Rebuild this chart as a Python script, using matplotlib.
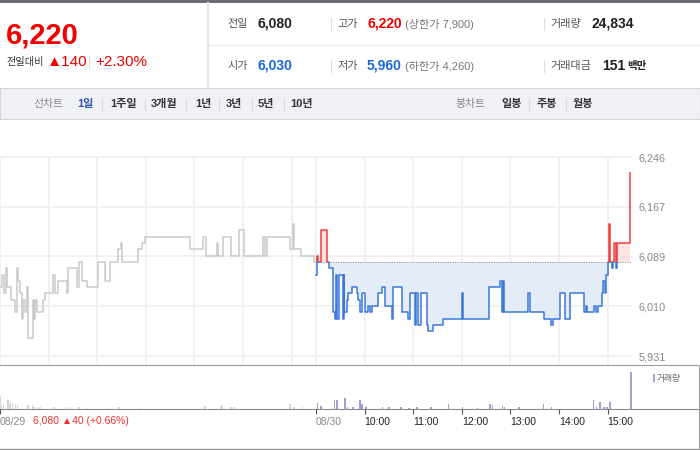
#!/usr/bin/env python3
"""1-day intraday line chart: previous session in grey, today coloured
against yesterday's close, volume strip underneath, quote header on top."""

import matplotlib

matplotlib.use("Agg")
import matplotlib.pyplot as plt
from matplotlib import font_manager
from matplotlib.patches import Rectangle
import numpy as np

W, H = 700, 450
plt.rcParams["font.family"] = ["Liberation Sans", "Noto Sans CJK KR", "DejaVu Sans"]

RED = "#f23d3d"
BLUE = "#3a78dc"
RED_FILL = "#fde3e3"
BLUE_FILL = "#e4ecf8"
PREV_GREY = "#c9cacd"
GRID = "#eeeeee"
LABEL = "#888888"
DARK = "#222222"
VOL_PREV = "#d6d6d6"
VOL_TODAY = "#a99bd6"

BASE = 6080  # previous close

# minutes after 09:00 on 08/29 (390 = 09:00 on 08/30), step close prices
PREV_MIN = [0, 3, 5, 7, 9, 14, 18.5, 20.6, 22.6, 24.7, 26.7, 28.8, 30.9, 33, 35,
            40.3, 42, 43.6, 45.3, 53.5, 55.6, 65.8, 67.9, 72, 82.3, 84.4, 94.7,
            98, 100.8, 107.8, 121.4, 129.6, 135.8, 146, 149, 151, 170.8, 175,
            179, 234.6, 251, 254, 267.5, 269.5, 275.7, 284.8, 295.5, 301, 325,
            327, 329, 358, 361, 363, 372, 388, 390]
PREV_PRICE = [6040, 6060, 6030, 6070, 6040, 6020, 6000, 6070, 6050, 6030, 5990,
              6020, 6000, 6040, 5960, 6020, 5990, 6020, 6000, 6020, 6030, 6060,
              6030, 6050, 6030, 6070, 6040, 6080, 6050, 6040, 6080, 6050, 6080,
              6100, 6110, 6080, 6100, 6110, 6120, 6100, 6120, 6090, 6110, 6090,
              6120, 6090, 6130, 6090, 6120, 6090, 6120, 6100, 6140, 6100, 6090,
              6080, 6080]

TODAY_MIN = [390, 391, 393, 396, 404, 406.6, 411.5, 413.6, 414.8, 416.5, 419,
             423, 424, 425, 428, 430, 435, 440, 442, 444, 446.5, 450.6, 454.7,
             456.8, 458.8, 467, 471, 475, 483.5, 485.6, 496, 504, 506, 512, 514,
             516.5, 519, 526.7, 528.8, 535, 547, 570, 571, 603, 616.5, 619,
             620.6, 622, 652, 654, 670.8, 680, 682, 691, 697.5, 703, 721, 723.5,
             725, 732.5, 736, 738, 743, 744, 747, 748, 749.8, 751.4, 753, 755,
             757, 758, 760.5, 762, 777, 778]
TODAY_PRICE = [6060, 6090, 6080, 6130, 6080, 6070, 6000, 5990, 6060, 5990, 6060,
               5990, 6060, 6000, 6020, 6030, 6040, 6030, 6020, 6000, 6030, 6000,
               6010, 6000, 6010, 6030, 6040, 6010, 5990, 6040, 6000, 5990, 6030,
               5980, 6030, 5980, 6030, 5980, 5970, 5980, 5990, 6030, 5990, 6040,
               6050, 6000, 6050, 6000, 6030, 6000, 5990, 5980, 5990, 6030, 5990,
               6030, 6000, 6010, 6000, 6010, 6000, 6010, 6030, 6050, 6030, 6060,
               6080, 6140, 6080, 6070, 6080, 6110, 6070, 6110, 6220, 6220]

PREV_VOL_MIN = [0, 1.2, 3.3, 9, 10.3, 12.3, 14.4, 18.5, 20.6, 33.7, 39, 41, 45.3,
                48.5, 65.8, 82.3, 86.4, 96.7, 107, 131.7, 146, 172.8, 252, 271.6,
                273.7, 284, 288, 357, 362, 372.5]
PREV_VOL = [980, 240, 400, 720, 400, 540, 460, 400, 320, 260, 260, 120, 120, 120,
            100, 100, 140, 100, 80, 80, 100, 80, 210, 180, 320, 100, 100, 340,
            100, 100]
TODAY_VOL_MIN = [391, 395, 412, 415, 425, 428, 435, 443.6, 445.7, 450.6, 471,
                 479, 494, 504, 513.6, 531, 552.7, 570, 588.5, 604, 607, 619.4,
                 622, 639.5, 670, 680, 731.7, 735, 739.5, 744.8, 748, 752, 777.8]
TODAY_VOL = [460, 180, 720, 720, 860, 140, 140, 720, 340, 140, 100, 100, 100, 80,
             140, 100, 380, 140, 80, 380, 260, 210, 140, 100, 380, 100, 660, 140,
             540, 140, 100, 540, 2940]

Y_TICKS = [5931, 6010, 6089, 6167, 6246]
Y_LABELS = ["5,931", "6,010", "6,089", "6,167", "6,246"]
GRID_MIN = [0, 60, 120, 180, 240, 300, 360, 390, 450, 510, 570, 630, 690, 750]
X_TICKS = [0, 390, 450, 510, 570, 630, 690, 750]
X_LABELS = ["08/29", "08/30", "10:00", "11:00", "12:00", "13:00", "14:00", "15:00"]

X_MAX = 780
PX_PER_WON = 199 / 315


def fig_rect(x0, y0, x1, y1):
    return [x0 / W, 1 - y1 / H, (x1 - x0) / W, (y1 - y0) / H]


def header(bg):
    names = {f.name for f in font_manager.fontManager.ttflist}
    narrow = "Liberation Sans Narrow" in names
    bg.add_patch(Rectangle((0, 0), 700, 2.5, color="#6a6d74", lw=0))
    bg.text(6, 36, "6,220", color="#f00000", fontweight="bold",
            fontsize=24 if narrow else 21,
            family="Liberation Sans Narrow" if narrow else "Liberation Sans",
            va="center", ha="left")
    bg.text(7, 62, "전일대비", color="#333", fontsize=7.3, va="center")
    bg.text(47, 62, "▲140", color="#f00000", fontsize=11, va="center")
    bg.plot([89, 89], [56, 68], color="#dddddd", lw=0.8)
    bg.text(95, 62, "+2.30%", color="#f00000", fontsize=11, va="center")

    bg.plot([208, 208], [2.5, 88], color="#e3e3e3", lw=1.5)
    bg.plot([209, 700], [45, 45], color="#ececec", lw=0.8)

    rows = [
        (24, [("전일", "6,080", DARK, "", "고가", "6,220", "#f00000", "(상한가 7,900)",
               "거래량", "24,834")]),
        (66, [("시가", "6,030", "#1a66dd", "", "저가", "5,960", "#1a66dd", "(하한가 4,260)",
               "거래대금", "151")]),
    ]
    for y, [(l1, v1, c1, _, l2, v2, c2, note, l3, v3)] in rows:
        bg.text(227, y, l1, color="#555", fontsize=8, va="center")
        bg.text(257, y, v1, color=c1, fontsize=10, fontweight="bold", va="center")
        bg.plot([331, 331], [y - 6, y + 6], color="#dddddd", lw=0.8)
        bg.text(337, y, l2, color="#555", fontsize=8, va="center")
        bg.text(367, y, v2, color=c2, fontsize=10, fontweight="bold", va="center")
        bg.text(405, y, note, color="#777", fontsize=8, va="center")
        bg.plot([544, 544], [y - 6, y + 6], color="#dddddd", lw=0.8)
        bg.text(550, y, l3, color="#555", fontsize=8, va="center")
        bg.text(591 if l3 == "거래량" else 602, y, v3, color=DARK, fontsize=10,
                fontweight="bold", va="center")
    bg.text(627, 66, "백만", color=DARK, fontsize=7.5, fontweight="bold", va="center")

    # period tabs
    bg.add_patch(Rectangle((0, 88), 700, 31, facecolor="#f0f1f5",
                           edgecolor="#d3d5db", lw=0.8))
    bg.text(33, 104, "선차트", color=LABEL, fontsize=7.8, va="center")
    bg.text(77, 104, "1일", color="#2f55ae", fontsize=8, fontweight="bold", va="center")
    for x, s in [(110, "1주일"), (151, "3개월"), (195, "1년"), (226, "3년"),
                 (258, "5년"), (290, "10년"), (501, "일봉"), (537, "주봉"), (573, "월봉")]:
        bg.text(x, 104, s, color="#333", fontsize=8, fontweight="bold", va="center")
    for x in [102, 145, 186, 219, 252, 284, 529, 566]:
        bg.plot([x, x], [99, 110], color="#d8d8d8", lw=0.8)
    bg.text(455, 104, "봉차트", color=LABEL, fontsize=7.8, va="center")


def main():
    fig = plt.figure(figsize=(W / 100, H / 100), dpi=100)
    fig.patch.set_facecolor("white")

    bg = fig.add_axes([0, 0, 1, 1], zorder=0)
    bg.set_xlim(0, W)
    bg.set_ylim(H, 0)
    bg.axis("off")
    header(bg)

    # frame lines of the chart area
    bg.plot([0, 700], [365, 365], color="#9d9d9d", lw=0.8)
    bg.plot([0, 700], [408.5, 408.5], color="#8c8c8c", lw=0.8)
    bg.plot([0, 700], [448.5, 448.5], color="#8c8c8c", lw=0.9)
    bg.plot([699, 699], [365, 449], color="#a0a0a0", lw=0.8)

    # price panel
    ax = fig.add_axes(fig_rect(0, 155, 632, 365), zorder=1)
    ax.patch.set_alpha(0)
    ax.set_xlim(0, X_MAX)
    ax.set_ylim(6246 - (365 - 157) / PX_PER_WON, 6246 + 2 / PX_PER_WON)
    for s in ax.spines.values():
        s.set_visible(False)
    ax.set_xticks([])
    ax.yaxis.tick_right()
    ax.set_yticks(Y_TICKS, Y_LABELS)
    ax.tick_params(axis="y", length=0, pad=5, labelcolor=LABEL, labelsize=7.8)
    ylo, yhi = ax.get_ylim()
    ax.vlines(GRID_MIN, ylo, 6246, color=GRID, lw=1.1, zorder=0, clip_on=False)
    ax.hlines(Y_TICKS, 0, X_MAX, color=GRID, lw=1.1, zorder=0)

    ax.plot(PREV_MIN, PREV_PRICE, drawstyle="steps-post", color=PREV_GREY, lw=1.1)

    tm = np.array(TODAY_MIN)
    tp = np.array(TODAY_PRICE)
    ax.fill_between(tm, BASE, np.maximum(tp, BASE), step="post", color=RED_FILL, lw=0)
    ax.fill_between(tm, np.minimum(tp, BASE), BASE, step="post", color=BLUE_FILL, lw=0)
    ax.plot([390, X_MAX - 1], [BASE, BASE], color="#8a8a8a", lw=0.7, ls=(0, (1, 1.5)))
    up = Rectangle((380, BASE), 500, 1000, transform=ax.transData)
    down = Rectangle((380, BASE - 1000), 500, 1000, transform=ax.transData)
    red_line, = ax.plot(tm, tp, drawstyle="steps-post", color=RED, lw=1.1)
    red_line.set_clip_path(up)
    blue_line, = ax.plot(tm, tp, drawstyle="steps-post", color=BLUE, lw=1.1)
    blue_line.set_clip_path(down)

    # volume panel
    av = fig.add_axes(fig_rect(0, 366, 632, 408.5), zorder=1)
    av.patch.set_alpha(0)
    av.set_xlim(0, X_MAX)
    av.set_ylim(0, 42.5 * 80)
    for s in av.spines.values():
        s.set_visible(False)
    av.set_yticks([])
    av.bar(PREV_VOL_MIN, PREV_VOL, width=1.8, color=VOL_PREV, lw=0, align="edge")
    av.bar(TODAY_VOL_MIN, TODAY_VOL, width=1.8, color=VOL_TODAY, lw=0, align="edge")
    av.set_xticks(X_TICKS, [""] * len(X_TICKS))
    av.tick_params(axis="x", direction="out", length=3.6, width=0.8, color="#555")
    tr = av.get_xaxis_transform()
    for m, s in zip(X_TICKS, X_LABELS):
        col = LABEL if s in ("08/29", "08/30") else DARK
        av.text(m, -0.31, s, transform=tr, color=col, fontsize=7.5,
                ha="left", va="center")
    bg.text(33, 421, "6,080 ▲40 (+0.66%)", color="#f03030", fontsize=7.5, va="center")

    bg.add_patch(Rectangle((652.5, 374), 2.5, 8, color=VOL_TODAY, lw=0))
    bg.text(657, 378, "거래량", color="#666", fontsize=6.3, va="center")

    fig.savefig("out.png", dpi=100)


if __name__ == "__main__":
    main()
